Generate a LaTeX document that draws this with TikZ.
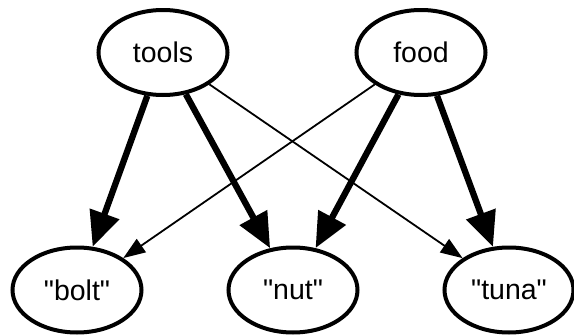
\documentclass[tikz,border=0pt]{standalone}
\usepackage{fontspec}
\newfontfamily\labfont{Liberation Sans}
\usetikzlibrary{shapes.geometric,arrows.meta}
\begin{document}
\begin{tikzpicture}[x=1pt,y=1pt,
  gnode/.style={draw,ellipse,line width=4pt,inner sep=0pt,minimum width=129pt,minimum height=85pt,font=\labfont\fontsize{28.5}{30}\selectfont},
  heavy/.style={line width=6.3pt,-{Triangle[length=35pt,width=30pt]}},
  light/.style={line width=1.8pt,-{Triangle[length=22pt,width=16pt]}}]
\useasboundingbox (0,0) rectangle (574,-335);
\node[gnode] (tools) at (163,-52.5) {tools};
\node[gnode] (food) at (421,-52.5) {food};
\node[gnode] (bolt) at (77,-290) {"bolt"};
\node[gnode] (nut) at (293,-290) {"nut"};
\node[gnode] (tuna) at (509,-290) {"tuna"};
\draw[heavy] (tools) -- (bolt);
\draw[heavy] (tools) -- (nut);
\draw[light] (tools) -- (tuna);
\draw[light] (food) -- (bolt);
\draw[heavy] (food) -- (nut);
\draw[heavy] (food) -- (tuna);
\end{tikzpicture}
\end{document}
